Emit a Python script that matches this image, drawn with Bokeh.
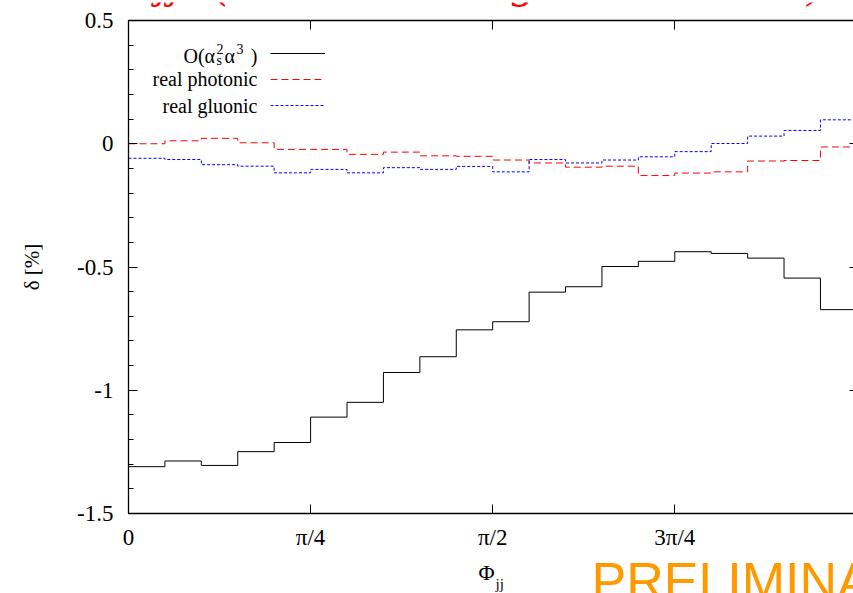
import numpy as np
from bokeh.plotting import figure
from bokeh.layouts import column
from bokeh.models import (Range1d, FixedTicker, SingleIntervalTicker, LinearAxis,
                          Label, Legend, LegendItem)
from bokeh.embed import file_html
from bokeh.resources import INLINE

# ---------------- data ----------------
phi_min, phi_max, n_bins = 0.0, np.pi, 20
o_as2_a3 = [-1.310, -1.287, -1.305, -1.249, -1.212, -1.109, -1.049, -0.928, -0.864, -0.755,
            -0.722, -0.602, -0.580, -0.498, -0.477, -0.438, -0.445, -0.464, -0.545, -0.673]
real_photonic = [0.000, 0.012, 0.022, 0.004, -0.023, -0.023, -0.043, -0.034, -0.049, -0.051,
                 -0.066, -0.078, -0.095, -0.091, -0.129, -0.119, -0.114, -0.070, -0.068, -0.013]
real_gluonic = [-0.059, -0.064, -0.085, -0.091, -0.118, -0.104, -0.118, -0.097, -0.104, -0.092,
                -0.114, -0.064, -0.078, -0.066, -0.053, -0.032, 0.001, 0.031, 0.054, 0.097]
series_names = ["O(α_s² α³)", "real photonic", "real gluonic"]
x_tick_values = [0.0, np.pi / 4, np.pi / 2, 3 * np.pi / 4, np.pi]
x_tick_labels = ["0", "π/4", "π/2", "3π/4", "π"]
y_tick_values = [0.5, 0.0, -0.5, -1.0, -1.5]
y_tick_labels = ["0.5", "0", "-0.5", "-1", "-1.5"]
title_parts = ["dσ/dΦjj", "(real radiation: gluonic and EW)"]
stamp_text = "PRELIMINARY"

# ---------------- layout (pixels of the 853 x 593 page) ----------------
W = 853
TOP_H, MAIN_H, BOT_H = 10, 543, 40
L = 128
FRAME_TOP, FRAME_H = 20, 493           # page pixels of the plot frame
X_END = 3.127
Y_START, Y_END = -1.5, 0.5
SERIF = "Liberation Serif"
FW = W - L


def dx(px):
    return X_END * (px - L) / FW


def dy(py):
    return Y_END - (Y_END - Y_START) * (py - FRAME_TOP) / FRAME_H


def strip(fig):
    fig.outline_line_color = None
    fig.background_fill_color = "white"
    fig.border_fill_color = "white"
    return fig


# ---------------- main plot ----------------
p = strip(figure(width=W, height=MAIN_H, output_backend="svg", toolbar_location=None,
                 x_range=Range1d(0, X_END), y_range=Range1d(Y_START, Y_END),
                 x_axis_type=None, y_axis_type=None,
                 min_border_left=L, min_border_right=0,
                 min_border_top=FRAME_TOP - TOP_H,
                 min_border_bottom=MAIN_H - (FRAME_TOP - TOP_H) - FRAME_H))

edges = list(np.linspace(phi_min, phi_max, n_bins + 1))


def ext(v):
    return list(v) + [v[-1]]


r0 = p.step(x=edges, y=ext(o_as2_a3), mode="after", line_color="black", line_width=1)
r1 = p.step(x=edges, y=ext(real_photonic), mode="after", line_color="#ff0000",
            line_width=1, line_dash="7 4")
r2 = p.step(x=edges, y=ext(real_gluonic), mode="after", line_color="#0000ff",
            line_width=1, line_dash="3 2")

xb = LinearAxis(ticker=FixedTicker(ticks=x_tick_values, minor_ticks=[]))
xb.major_label_overrides = {v: s for v, s in zip(x_tick_values, x_tick_labels)}
xt = LinearAxis(ticker=FixedTicker(ticks=x_tick_values, minor_ticks=[]))
xt.major_label_overrides = {v: "" for v in x_tick_values}
xt.major_label_standoff = 0
yl = LinearAxis(ticker=SingleIntervalTicker(interval=0.5, num_minor_ticks=5))
yl.major_label_overrides = {v: s for v, s in zip(y_tick_values, y_tick_labels)}
yl.axis_label = "δ [%]"
# mirrored ticks of the (cut-off) right border: only their tips show at the edge
yr = LinearAxis(ticker=FixedTicker(ticks=y_tick_values, minor_ticks=[]))
yr.major_label_overrides = {v: "" for v in y_tick_values}
yr.major_label_standoff = 0

for ax in (xb, xt, yl, yr):
    ax.axis_line_color = "black"
    ax.axis_line_width = 1.3
    ax.major_tick_line_color = "black"
    ax.minor_tick_line_color = "black"
    ax.major_tick_in = 9
    ax.major_tick_out = 0
    ax.minor_tick_in = 5
    ax.minor_tick_out = 0
    ax.major_label_text_font = SERIF
    ax.major_label_text_color = "black"
    ax.axis_label_text_font = SERIF
    ax.axis_label_text_font_style = "normal"
    ax.axis_label_text_color = "black"

xb.major_label_text_font_size = "23px"
xb.major_label_standoff = 11
xt.major_label_text_font_size = "1px"
yl.major_label_text_font_size = "23px"
yl.major_label_standoff = 15
yl.axis_label_text_font_size = "21px"
yl.axis_label_standoff = 30
yr.axis_line_color = None
yr.major_tick_in = 4
yr.major_label_text_font_size = "1px"

p.add_layout(xb, "below")
p.add_layout(xt, "above")
p.add_layout(yl, "left")
p.add_layout(yr, "right")

# key: sample lines from the library's legend, texts to their left
legend = Legend(items=[LegendItem(label=" ", renderers=[r0]),
                       LegendItem(label=" ", renderers=[r1]),
                       LegendItem(label=" ", renderers=[r2])],
                location=(270 - L, (FRAME_TOP + FRAME_H) - 118), orientation="vertical",
                glyph_width=55, glyph_height=26, label_height=26, label_width=0,
                label_standoff=0, spacing=0, padding=0, margin=0,
                border_line_color=None, background_fill_alpha=0,
                label_text_font=SERIF, label_text_font_size="20px")
p.add_layout(legend)


def key_text(px, py, txt, size="20px", align="left"):
    p.add_layout(Label(x=dx(px), y=dy(py), text=txt, text_font=SERIF, text_font_size=size,
                       text_color="black", text_align=align, text_baseline="middle"))


key_text(183, 55, "O(α")
key_text(216, 48.5, "2", "14px")
key_text(216, 60, "s", "14px")
key_text(224, 55, "α")
key_text(236, 48.5, "3", "14px")
key_text(257, 55, ")", align="right")
key_text(257, 78.5, series_names[1], align="right")
key_text(257, 105, series_names[2], align="right")


# ---------------- strips above / below the plot (page-pixel coordinates) ----------------
def text_strip(height, y_top):
    f = figure(width=W, height=height, output_backend="svg", toolbar_location=None,
               x_range=Range1d(L, W), y_range=Range1d(y_top + height, y_top),
               x_axis_type=None, y_axis_type=None, min_border=0,
               min_border_left=L, min_border_right=0)
    return strip(f)


f_top = text_strip(TOP_H, 0)
f_top.add_layout(Label(x=181, y=-21, text=title_parts[0], text_font=SERIF, text_font_size="46px",
                       text_font_style="italic", text_color="#ff0000", text_align="right",
                       text_baseline="middle"))
f_top.add_layout(Label(x=214, y=-21, text=title_parts[1], text_font=SERIF, text_font_size="46px",
                       text_font_style="italic", text_color="#ff0000", text_align="left",
                       text_baseline="middle"))

f_bot = text_strip(BOT_H, TOP_H + MAIN_H)
f_bot.add_layout(Label(x=478, y=571.5, text="Φ", text_font=SERIF, text_font_size="22px",
                       text_color="black", text_baseline="middle"))
f_bot.add_layout(Label(x=495, y=583, text="jj", text_font=SERIF, text_font_size="15px",
                       text_color="black", text_baseline="middle"))
f_bot.add_layout(Label(x=591, y=580, text=stamp_text, text_font="Liberation Sans",
                       text_font_size="52px", text_color="#ff9900", text_baseline="middle"))

page = column(f_top, p, f_bot, spacing=0)
open("out.html", "w").write(file_html(page, INLINE))
